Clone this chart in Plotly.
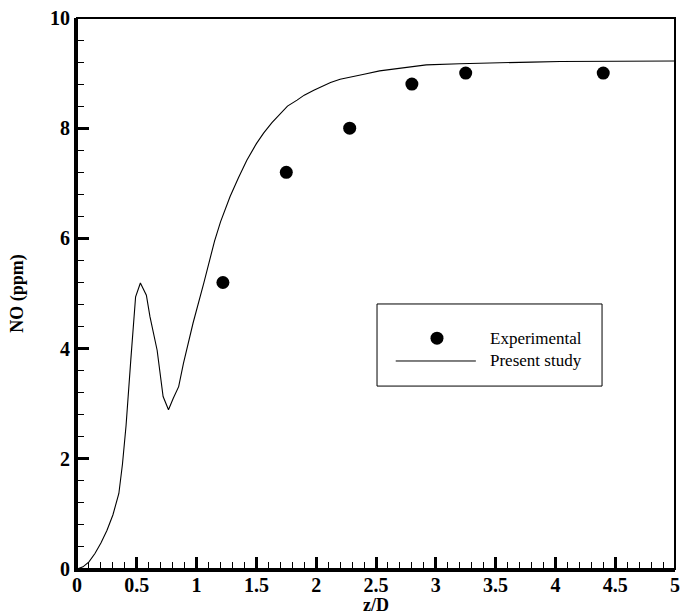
import plotly.graph_objects as go

# Experimental data
exp_x = [1.22, 1.75, 2.28, 2.80, 3.25, 4.40]
exp_y = [5.2, 7.2, 8.0, 8.8, 9.0, 9.0]

# Present study (numerical curve)
sim_x = [0, 0.05, 0.1, 0.15, 0.2, 0.25, 0.3, 0.35, 0.38, 0.41, 0.45, 0.49, 0.53,
         0.58, 0.61, 0.67, 0.72, 0.765, 0.805, 0.85, 0.89, 0.97, 1.06, 1.15,
         1.2, 1.28, 1.35, 1.42, 1.5, 1.56, 1.63, 1.7, 1.76, 1.84, 1.9, 1.98,
         2.05, 2.12, 2.2, 2.26, 2.35, 2.4, 2.53, 2.7, 2.92, 3.2, 3.48, 3.8,
         4.04, 4.5, 5.0]
sim_y = [0, 0.04, 0.13, 0.28, 0.47, 0.7, 0.98, 1.37, 1.9, 2.6, 3.8, 4.94, 5.19,
         4.97, 4.58, 3.97, 3.13, 2.89, 3.1, 3.31, 3.73, 4.46, 5.19, 5.95,
         6.3, 6.76, 7.1, 7.42, 7.72, 7.91, 8.1, 8.27, 8.4, 8.51, 8.6, 8.69,
         8.76, 8.83, 8.89, 8.92, 8.96, 8.98, 9.04, 9.09, 9.15, 9.17, 9.19, 9.2,
         9.21, 9.21, 9.22]

legend_labels = ["Experimental", "Present study"]

x_ticks = [0, 0.5, 1, 1.5, 2, 2.5, 3, 3.5, 4, 4.5, 5]
x_ticktext = ["0", "0.5", "1", "1.5", "2", "2.5", "3", "3.5", "4", "4.5", "5"]
y_ticks = [0, 2, 4, 6, 8, 10]

SERIF = "Liberation Serif, Times New Roman, serif"

fig = go.Figure()
fig.add_trace(go.Scatter(x=sim_x, y=sim_y, mode="lines",
                         line=dict(color="black", width=1.1),
                         name=legend_labels[1], showlegend=False))
fig.add_trace(go.Scatter(x=exp_x, y=exp_y, mode="markers",
                         marker=dict(color="black", size=13, symbol="circle"),
                         name=legend_labels[0], showlegend=False))

axis_common = dict(
    showgrid=False, zeroline=False, showline=True, linecolor="black", linewidth=3,
    ticks="inside", ticklen=12, tickwidth=2.5, tickcolor="black", automargin=False,
    tickfont=dict(family=SERIF, size=20, color="black", weight="bold"),
)

fig.update_xaxes(range=[0, 5], tickvals=x_ticks, ticktext=x_ticktext,
                 ticklabelstandoff=-4,
                 minor=dict(dtick=0.1, ticks="inside", ticklen=7, tickwidth=1, tickcolor="black"),
                 title=dict(text="z/D", font=dict(family=SERIF, size=18, color="black", weight="bold"),
                            standoff=0),
                 **axis_common)
fig.update_yaxes(range=[0, 10], tickvals=y_ticks,
                 minor=dict(dtick=0.4, ticks="inside", ticklen=7, tickwidth=1, tickcolor="black"),
                 title=dict(text="NO (ppm)", font=dict(family=SERIF, size=18, color="black", weight="bold"),
                            standoff=22),
                 **axis_common)

# frame top/right
fig.add_shape(type="rect", xref="paper", yref="paper", x0=0, x1=1, y0=0, y1=1,
              line=dict(color="black", width=2), layer="above")

# legend box (manual)
fig.add_shape(type="rect", xref="paper", yref="paper", x0=0.5017, x1=0.878, y0=0.332, y1=0.481,
              line=dict(color="black", width=1), fillcolor="white", layer="above")
fig.add_shape(type="circle", xref="paper", yref="paper", xsizemode="pixel", ysizemode="pixel",
              xanchor=0.602, yanchor=0.419, x0=-6.5, x1=6.5, y0=-6.5, y1=6.5,
              line=dict(color="black", width=0), fillcolor="black", layer="above")
fig.add_shape(type="line", xref="paper", yref="paper", x0=0.533, x1=0.667, y0=0.3775, y1=0.3775,
              line=dict(color="black", width=1), layer="above")
for txt, yy in zip(legend_labels, [0.419, 0.3775]):
    fig.add_annotation(xref="paper", yref="paper", x=0.687, y=yy, text=txt, showarrow=False,
                       xanchor="left", yanchor="middle",
                       font=dict(family=SERIF, size=17, color="black"))

fig.update_layout(
    width=681, height=615,
    margin=dict(l=77, r=6, t=18, b=46),
    paper_bgcolor="white", plot_bgcolor="white",
    showlegend=False,
)

fig.write_html("out.html", config={"displayModeBar": False},
               post_script="document.body.style.margin='0px';document.body.style.overflow='hidden';")
